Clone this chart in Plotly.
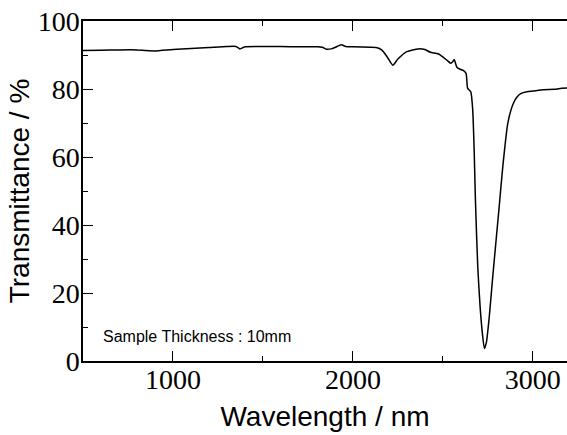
import plotly.graph_objects as go

wavelength = [500, 600, 700, 800, 850, 900, 1000, 1100, 1200, 1300, 1350, 1372, 1390, 1400,
              1500, 1600, 1700, 1800, 1830, 1852, 1880, 1900, 1936, 1960, 2000, 2100, 2130,
              2160, 2190, 2222, 2250, 2300, 2364, 2400, 2431, 2476, 2522, 2543, 2555, 2563,
              2578, 2596, 2615, 2629, 2638, 2655, 2666, 2674, 2681, 2694, 2707, 2720, 2731,
              2742, 2758, 2776, 2796, 2815, 2833, 2861, 2888, 2910, 2935, 2967, 3000, 3060,
              3120, 3160, 3190, 3200]
transmittance = [91.3, 91.4, 91.5, 91.5, 91.3, 91.2, 91.6, 91.9, 92.2, 92.5, 92.5, 91.8, 92.2, 92.4,
                 92.5, 92.5, 92.4, 92.4, 92.3, 91.7, 91.8, 92.2, 93.0, 92.5, 92.4, 92.3, 92.2,
                 91.5, 89.5, 87.0, 88.8, 91.0, 91.8, 91.6, 90.8, 90.3, 88.5, 87.6, 88.0, 88.7,
                 86.4, 85.8, 85.4, 84.6, 80.2, 79.2, 73.8, 62.0, 47.4, 27.7, 16.0, 8.0, 3.7,
                 5.5, 13.0, 24.0, 35.6, 46.5, 57.1, 69.9, 75.3, 77.5, 78.7, 79.2, 79.4, 79.8,
                 79.9, 80.2, 80.3, 80.3]

x_ticks = [1000, 2000, 3000]
y_ticks = [0, 20, 40, 60, 80, 100]
note_text = "Sample Thickness : 10mm"

fig = go.Figure()
fig.add_trace(go.Scatter(x=wavelength, y=transmittance, mode="lines",
                         line=dict(color="black", width=1.5, shape="spline", smoothing=0.6),
                         showlegend=False, hoverinfo="skip"))

tick_font = dict(family="Liberation Serif", size=28, color="black")
title_font = dict(family="Liberation Sans", size=28, color="black")

fig.update_layout(
    width=567, height=435,
    margin=dict(l=83, r=0, t=21, b=74, autoexpand=False),
    paper_bgcolor="white", plot_bgcolor="white",
    xaxis=dict(range=[500, 3190], tickvals=x_ticks, ticktext=[str(v) for v in x_ticks],
               ticks="inside", ticklen=10, tickwidth=1.2, tickcolor="black",
               minor=dict(dtick=500, tick0=0, ticks="inside", ticklen=5, tickwidth=1.2, tickcolor="black"),
               showline=True, linecolor="black", linewidth=1.5, mirror="allticks",
               showgrid=False, zeroline=False, tickfont=tick_font, automargin=False,
               ticklabelstandoff=-7,
               title=dict(text="Wavelength / nm", font=title_font, standoff=12)),
    yaxis=dict(range=[0, 100], tickvals=y_ticks, ticktext=[str(v) for v in y_ticks],
               ticks="inside", ticklen=10, tickwidth=1.2, tickcolor="black",
               minor=dict(dtick=10, tick0=0, ticks="inside", ticklen=5, tickwidth=1.2, tickcolor="black"),
               showline=True, linecolor="black", linewidth=1.5, mirror=False,
               showgrid=False, zeroline=False, tickfont=tick_font, automargin=False,
               ticklabelstandoff=-4,
               title=dict(text="Transmittance / %", font=title_font, standoff=0)),
    yaxis2=dict(range=[0, 100], overlaying="y", side="right", tickvals=y_ticks,
                showticklabels=False, ticks="inside", ticklen=10, tickwidth=1.2, tickcolor="black",
                minor=dict(dtick=10, tick0=0, ticks="inside", ticklen=5, tickwidth=1.2, tickcolor="black"),
                showline=False, showgrid=False, zeroline=False, automargin=False),
    annotations=[dict(x=600, y=7.3, xref="x", yref="y", text=note_text, showarrow=False,
                      xanchor="left", yanchor="middle",
                      font=dict(family="Liberation Sans", size=16, color="black"))],
)

fig.write_html("out.html", config={"displayModeBar": False},
               post_script="document.body.style.margin='0';")
